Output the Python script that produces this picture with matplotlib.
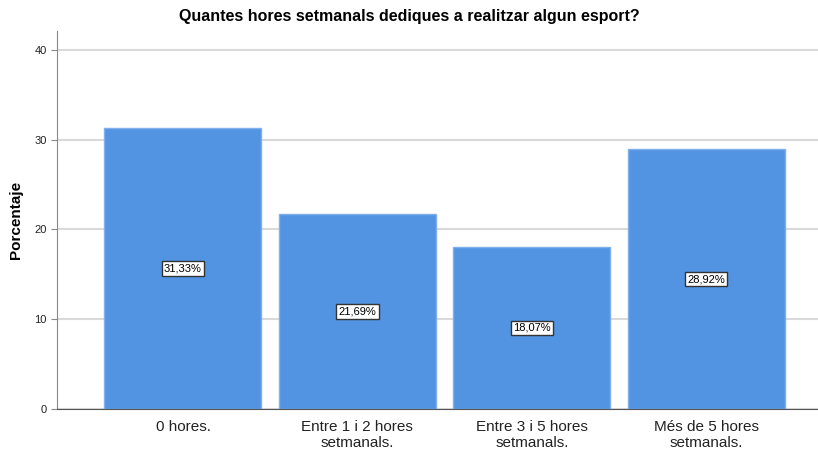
import matplotlib
matplotlib.use("Agg")
import matplotlib.pyplot as plt

categories = ["0 hores.", "Entre 1 i 2 hores\nsetmanals.", "Entre 3 i 5 hores\nsetmanals.", "Més de 5 hores\nsetmanals."]
values = [31.33, 21.69, 18.07, 28.92]
labels = ["31,33%", "21,69%", "18,07%", "28,92%"]
yticks = [0, 10, 20, 30, 40]

plt.rcParams["font.family"] = ["Liberation Sans", "DejaVu Sans"]

fig = plt.figure(figsize=(8.18, 4.5), dpi=100)
ax = fig.add_axes([57 / 818, 1 - 409 / 450, 1 - 57 / 818, (409 - 31) / 450])

x = list(range(len(categories)))
ax.bar(x, values, width=0.9, color="#5294E2", edgecolor="#7FB0EC", linewidth=1, zorder=2)

for xi, v, lab in zip(x, values, labels):
    ax.text(xi, v / 2, lab, ha="center", va="center", fontsize=8, zorder=3,
            bbox=dict(boxstyle="square,pad=0.2", facecolor="white", edgecolor="#333333", linewidth=1))

ax.set_xlim(-0.722, 3.64)
ax.set_ylim(0, 42.1)
ax.set_yticks(yticks)
ax.set_xticks(x)
ax.set_xticklabels(categories, fontsize=11, linespacing=1.15, color="#222222")
ax.tick_params(axis="x", length=0, pad=8)
ax.tick_params(axis="y", length=4, labelsize=8, color="#888888", labelcolor="#222222")
ax.yaxis.grid(True, color="#d9d9d9", linewidth=1.5, zorder=0)
ax.set_axisbelow(True)

for side in ["top", "right"]:
    ax.spines[side].set_visible(False)
ax.spines["left"].set_color("#888888")
ax.spines["bottom"].set_color("#555555")

ax.set_ylabel("Porcentaje", fontsize=11, fontweight="bold", labelpad=8)
fig.suptitle("Quantes hores setmanals dediques a realitzar algun esport?",
             fontsize=11.5, fontweight="bold", y=1 - 17 / 450, va="center")

fig.savefig("out.png", dpi=100)
